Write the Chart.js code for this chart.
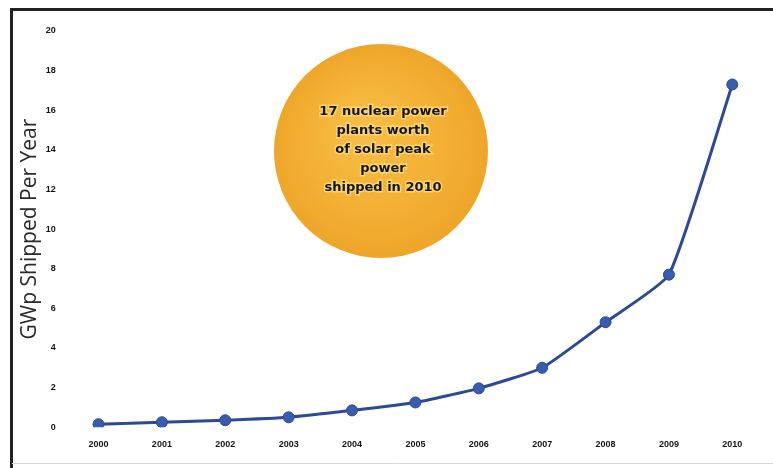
<!DOCTYPE html>
<html>
<head>
<meta charset="utf-8">
<script src="https://cdn.jsdelivr.net/npm/chart.js@4.4.0/dist/chart.umd.min.js"></script>
<style>
  html, body { margin: 0; padding: 0; background: #ffffff; }
  #wrap { position: relative; width: 773px; height: 468px; }
</style>
</head>
<body>
<div id="wrap"><canvas id="c" width="773" height="468"></canvas></div>
<script>
const years = ["2000","2001","2002","2003","2004","2005","2006","2007","2008","2009","2010"];
const shipped = [0.15, 0.25, 0.35, 0.5, 0.85, 1.25, 1.96, 3.0, 5.3, 7.7, 17.3];
const yTicks = [0, 2, 4, 6, 8, 10, 12, 14, 16, 18, 20];
const yTitle = "GWp Shipped Per Year";
const sunLines = ["17 nuclear power", "plants worth", "of solar peak", "power", "shipped in 2010"];

const framePlugin = {
  id: 'frame',
  beforeDraw(chart) {
    const ctx = chart.ctx;
    ctx.save();
    ctx.fillStyle = '#ffffff';
    ctx.fillRect(0, 0, chart.width, chart.height);
    ctx.strokeStyle = '#1f2420';
    ctx.lineWidth = 3;
    ctx.beginPath();
    ctx.moveTo(11.5, 468);
    ctx.lineTo(11.5, 9.5);
    ctx.lineTo(773, 9.5);
    ctx.stroke();
    ctx.strokeStyle = '#d8d8d8';
    ctx.lineWidth = 1;
    ctx.beginPath();
    ctx.moveTo(12, 463.5);
    ctx.lineTo(773, 463.5);
    ctx.stroke();
    ctx.restore();
  }
};

const sunPlugin = {
  id: 'sun',
  afterDatasetsDraw(chart) {
    const ctx = chart.ctx;
    const cx = 381, cy = 151, r = 107;
    ctx.save();
    const g = ctx.createRadialGradient(cx - 20, cy - 25, 10, cx, cy, r);
    g.addColorStop(0, '#f6bd46');
    g.addColorStop(0.6, '#f3b034');
    g.addColorStop(1, '#eea629');
    ctx.fillStyle = g;
    ctx.beginPath();
    ctx.arc(cx, cy, r, 0, Math.PI * 2);
    ctx.fill();
    ctx.font = 'bold 13px "DejaVu Sans", "Liberation Sans", Arial, sans-serif';
    ctx.textAlign = 'center';
    ctx.textBaseline = 'middle';
    const ys = [112, 131, 150, 169, 188];
    sunLines.forEach((t, i) => {
      ctx.lineWidth = 3;
      ctx.strokeStyle = '#f9d56a';
      ctx.strokeText(t, cx + 2, ys[i]);
      ctx.fillStyle = '#141414';
      ctx.fillText(t, cx + 2, ys[i]);
    });
    ctx.restore();
  }
};

new Chart(document.getElementById('c'), {
  type: 'line',
  data: {
    labels: years,
    datasets: [{
      data: shipped,
      borderColor: '#2d4a94',
      borderWidth: 3,
      backgroundColor: '#3556a8',
      pointBackgroundColor: '#3a5cae',
      pointBorderColor: '#2d4a94',
      pointBorderWidth: 1,
      pointRadius: 5.5,
      tension: 0.15,
      fill: false
    }]
  },
  options: {
    responsive: false,
    animation: false,
    layout: { padding: { top: 31, right: 9, left: 22, bottom: 14 } },
    plugins: { legend: { display: false }, tooltip: { enabled: false } },
    scales: {
      x: {
        offset: true,
        grid: { display: false },
        border: { display: false },
        ticks: {
          color: '#151515',
          font: { size: 9, weight: 'bold', family: 'Liberation Sans, Arial, sans-serif' },
          padding: 4,
          maxRotation: 0
        }
      },
      y: {
        min: 0,
        max: 20,
        afterBuildTicks(axis) { axis.ticks = yTicks.map(v => ({ value: v })); },
        grid: { display: false },
        border: { display: false },
        ticks: {
          color: '#151515',
          font: { size: 9, weight: 'bold', family: 'Liberation Sans, Arial, sans-serif' },
          padding: 3
        },
        title: {
          display: true,
          text: yTitle,
          color: '#2a2a2a',
          font: { size: 21, lineHeight: 0.8, family: 'Open Sans, Liberation Sans, sans-serif' },
          padding: { top: 0, bottom: 4 }
        }
      }
    }
  },
  plugins: [framePlugin, sunPlugin]
});
</script>
</body>
</html>
